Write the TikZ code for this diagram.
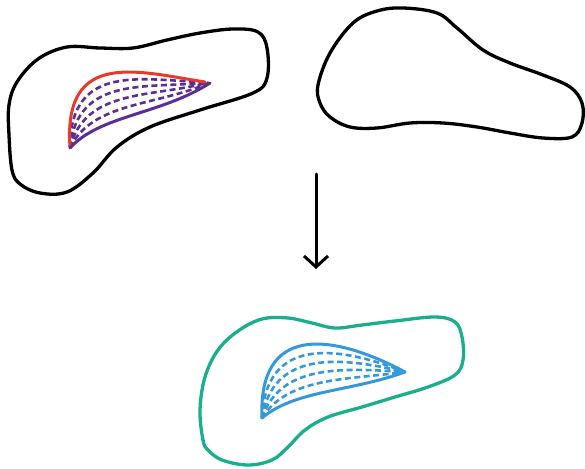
\documentclass[tikz,border=0pt]{standalone}
\usetikzlibrary{arrows.meta}
\definecolor{cred}{HTML}{E8392A}
\definecolor{cpurple}{HTML}{5B2E96}
\definecolor{cteal}{HTML}{1AAE8E}
\definecolor{cblue}{HTML}{3598DB}
\tikzset{
  blob/.style={line width=3.3pt, line join=round, tension=0.6},
  curveline/.style={line width=3pt, line cap=round},
  dashline/.style={line width=2.6pt, dash pattern=on 6pt off 3.5pt},
}
\begin{document}
\begin{tikzpicture}[x=1pt,y=-1pt]
\useasboundingbox (0,0) rectangle (585,468);
% left blob
\draw[blob] plot[smooth cycle] coordinates {(9,105) (17,82) (38,59) (67,47) (100,48) (133,48) (167,40) (200,33) (233,29) (258,32) (267,48) (267,78) (253,93) (200,110) (150,127) (117,147) (93,173) (67,192) (40,193) (20,184) (12,170) (9,135)};
% right blob
\draw[blob] plot[smooth cycle] coordinates {(318,85) (330,53) (353,23) (377,11) (403,8) (437,13) (457,28) (483,50) (510,63) (543,75) (570,87) (582,103) (582,123) (572,137) (543,138) (510,133) (477,127) (443,123) (410,123) (377,128) (350,127) (330,117) (320,103)};
% bottom blob
\draw[blob, cteal] plot[smooth cycle] coordinates {(203,440) (200,410) (205,377) (218,350) (238,331) (262,319) (288,318) (312,323) (335,328) (362,325) (395,321) (435,317) (455,322) (462,337) (463,360) (455,375) (428,387) (395,397) (362,407) (328,417) (305,430) (288,447) (272,460) (248,465) (222,460) (208,450)};
% upper family
\foreach \t in {0.2,0.4,0.6,0.8}{
  \draw[dashline, cpurple]
    ({70*(1-\t)+70*\t},{147*(1-\t)+148*\t}) .. controls
    ({63*(1-\t)+100*\t},{48*(1-\t)+115*\t}) and
    ({140*(1-\t)+160*\t},{72*(1-\t)+115*\t}) ..
    ({205*(1-\t)+210*\t},{82*(1-\t)+83*\t});
}
\draw[curveline, cred] (70,147) .. controls (63,48) and (140,72) .. (205,82);
\draw[curveline, cpurple] (70,148) .. controls (100,115) and (160,115) .. (210,83);
% lower family
\foreach \t in {0.2,0.4,0.6,0.8}{
  \draw[dashline, cblue]
    (262,418) .. controls
    ({258*(1-\t)+295*\t},{325*(1-\t)+390*\t}) and
    ({330*(1-\t)+350*\t},{332*(1-\t)+392*\t}) ..
    (405,372);
}
\draw[curveline, cblue] (262,418) .. controls (258,325) and (330,332) .. (405,372);
\draw[curveline, cblue] (262,418) .. controls (295,390) and (350,392) .. (405,372);
% arrow
\coordinate (a1) at (316,174);
\coordinate (a2) at (316,269);
\draw[line width=3pt, line cap=round, -{Straight Barb[length=11pt,width=24pt,line width=3pt]}] (a1) -- (a2);
\end{tikzpicture}
\end{document}
